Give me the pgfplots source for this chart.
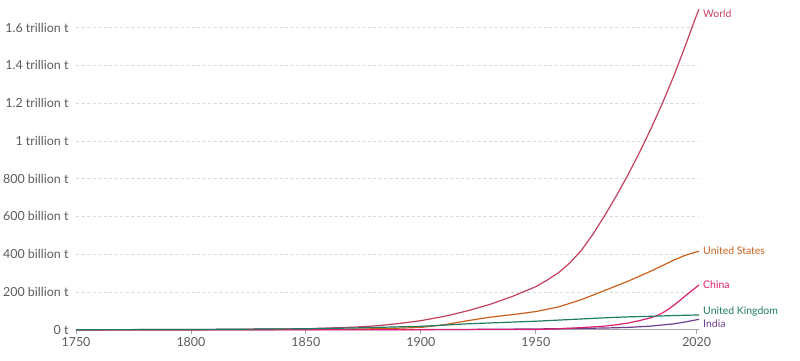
\documentclass[border=0pt]{standalone}
\usepackage{fontspec}
\setmainfont{Lato}
\usepackage{pgfplots}
\pgfplotsset{compat=1.18}
\definecolor{worldc}{HTML}{C4405E}
\definecolor{usc}{HTML}{C8601C}
\definecolor{chinac}{HTML}{DC1F6E}
\definecolor{ukc}{HTML}{1F7D63}
\definecolor{indiac}{HTML}{6D3E91}
\definecolor{tickc}{HTML}{5B5B5B}
\begin{document}
\begin{tikzpicture}[x=1bp,y=1bp]
\useasboundingbox (0,0) rectangle (800,360);
\begin{axis}[
  at={(76bp,30.3bp)}, anchor=south west,
  scale only axis, width=623bp, height=321bp,
  xmin=1750, xmax=2021, ymin=0, ymax=1.7,
  separate axis lines,
  axis x line*=bottom, axis y line*=left,
  x axis line style={-, draw=black!35, line width=0.8bp},
  y axis line style={draw=none},
  ytick={0,0.2,0.4,0.6,0.8,1.0,1.2,1.4,1.6},
  yticklabels={0 t,200 billion t,400 billion t,600 billion t,800 billion t,1 trillion t,1.2 trillion t,1.4 trillion t,1.6 trillion t},
  xtick={1750,1800,1850,1900,1950,2020},
  xticklabels={1750,1800,1850,1900,1950,2020},
  ytick style={draw=none},
  xtick style={draw=black!35, line width=0.8bp},
  tick align=outside, major tick length=4bp,
  ymajorgrids,
  major grid style={dash pattern=on 3bp off 2.5bp, draw=black!15, line width=0.7bp},
  tick label style={font=\fontsize{12.5}{14}\selectfont, text=tickc},
  clip=false,
  every axis plot/.append style={line width=1.2bp, line join=round},
]
\addplot[worldc] coordinates {(1750,0.00001) (1800,0.001) (1850,0.005) (1870,0.013) (1880,0.02) (1890,0.032) (1900,0.048) (1910,0.07) (1920,0.099) (1930,0.134) (1940,0.177) (1950,0.228) (1955,0.263) (1960,0.303) (1965,0.356) (1970,0.423) (1975,0.508) (1980,0.605) (1985,0.708) (1990,0.818) (1995,0.936) (2000,1.062) (2005,1.197) (2010,1.343) (2015,1.502) (2018,1.603) (2020,1.668) (2021,1.697)};
\addplot[usc] coordinates {(1750,0) (1800,0.0002) (1850,0.001) (1870,0.003) (1880,0.005) (1890,0.008) (1900,0.012) (1910,0.026) (1920,0.047) (1930,0.066) (1940,0.080) (1950,0.096) (1960,0.121) (1970,0.160) (1980,0.208) (1990,0.256) (2000,0.310) (2010,0.368) (2015,0.394) (2021,0.416)};
\addplot[indiac] coordinates {(1750,0) (1900,0.0005) (1920,0.0015) (1950,0.004) (1970,0.007) (1980,0.009) (1990,0.012) (2000,0.019) (2010,0.031) (2015,0.041) (2021,0.055)};
\addplot[chinac] coordinates {(1750,0) (1900,0.0002) (1950,0.001) (1960,0.005) (1970,0.011) (1980,0.019) (1985,0.026) (1990,0.035) (1995,0.048) (2000,0.063) (2003,0.076) (2005,0.088) (2008,0.111) (2010,0.129) (2013,0.158) (2015,0.179) (2018,0.208) (2021,0.237)};
\addplot[ukc] coordinates {(1750,0.0001) (1800,0.001) (1850,0.005) (1870,0.009) (1900,0.018) (1910,0.024) (1920,0.031) (1950,0.045) (1960,0.051) (1970,0.057) (1980,0.063) (1990,0.068) (2000,0.071) (2010,0.075) (2021,0.078)};
\begin{scope}[every node/.style={anchor=west, inner sep=4bp, font=\fontsize{10.5}{12}\selectfont}]
\node[text=worldc] at (axis cs:2021,1.672) {World};
\node[text=usc] at (axis cs:2021,0.417) {United States};
\node[text=chinac] at (axis cs:2021,0.237) {China};
\node[text=ukc] at (axis cs:2021,0.094) {United Kingdom};
\node[text=indiac] at (axis cs:2021,0.030) {India};
\end{scope}
\end{axis}
\end{tikzpicture}
\end{document}
